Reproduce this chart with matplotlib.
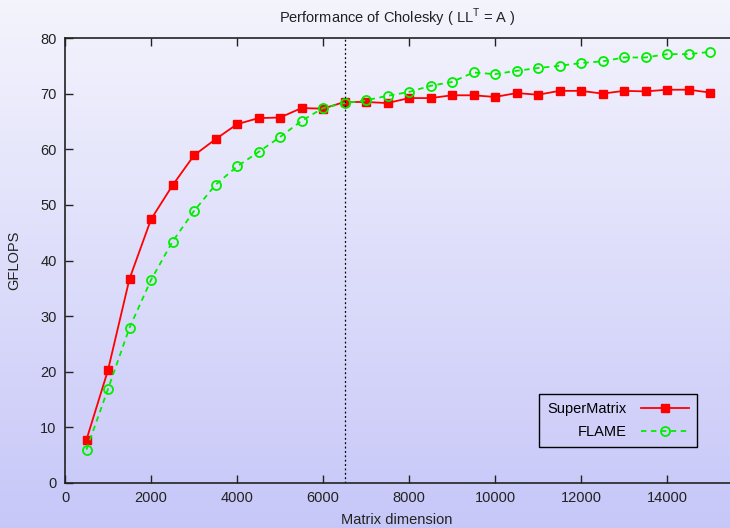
import numpy as np
import matplotlib
matplotlib.use("Agg")
import matplotlib.pyplot as plt

plt.rcParams['font.family'] = ['Liberation Sans', 'DejaVu Sans']

# %% Data
sizes = [500, 1000, 1500, 2000, 2500, 3000, 3500, 4000, 4500, 5000,
         5500, 6000, 6500, 7000, 7500, 8000, 8500, 9000, 9500, 10000,
         10500, 11000, 11500, 12000, 12500, 13000, 13500, 14000, 14500, 15000]
supermatrix = [7.8, 20.3, 36.7, 47.4, 53.5, 58.9, 61.8, 64.5, 65.6, 65.7,
               67.4, 67.3, 68.5, 68.5, 68.3, 69.2, 69.2, 69.7, 69.7, 69.4,
               70.1, 69.8, 70.5, 70.5, 70.0, 70.5, 70.4, 70.7, 70.7, 70.2]
flame = [6.0, 16.9, 27.9, 36.5, 43.4, 48.9, 53.6, 56.9, 59.5, 62.2,
         65.1, 67.4, 68.3, 68.8, 69.6, 70.3, 71.4, 72.1, 73.8, 73.5,
         74.1, 74.6, 75.0, 75.5, 75.8, 76.5, 76.5, 77.1, 77.1, 77.5]
split_at = 6500
xticks = list(range(0, 14001, 2000))
yticks = list(range(0, 81, 10))

# %% Figure with gradient background
W, H = 730, 528
fig = plt.figure(figsize=(W / 100, H / 100), dpi=100)

bg = fig.add_axes([0, 0, 1, 1], zorder=0)
grad = np.linspace(0, 1, 256).reshape(-1, 1)
top = np.array([0.957, 0.957, 0.992])
bot = np.array([0.780, 0.780, 0.976])
img = top + (bot - top) * grad[:, :, None]
bg.imshow(img, aspect='auto', extent=[0, 1, 0, 1])
bg.axis('off')

# axes: x=0 at px 65, y=0 at px 483, y=80 at px 38, 16000 past the right edge
left = 65 / W
right = (65 + 16000 * 0.043) / W
bottom = (H - 483) / H
height = (483 - 38) / H
ax = fig.add_axes([left, bottom, right - left, height], zorder=1)
ax.patch.set_alpha(0)

ax.plot(sizes, supermatrix, color='#ff0000', lw=1.3, marker='s', ms=6,
        mec='#ff0000', mfc='#ff0000', label='SuperMatrix')
ax.plot(sizes, flame, color='#00ee00', lw=1.3, ls=(0, (3, 2.5)), marker='o',
        ms=6.5, mec='#00ee00', mfc='none', mew=1.3, label='FLAME')
ax.axvline(split_at, color='black', lw=0.9, ls=(0, (1.5, 2)))

ax.set_xlim(0, 16000)
ax.set_ylim(0, 80)
ax.set_xticks(xticks)
ax.set_yticks(yticks)
ax.tick_params(direction='in', length=6, width=1, top=True, right=True,
               labelsize=10.5, colors='#222222', pad=6)
for s in ax.spines.values():
    s.set_linewidth(1.2)
    s.set_color('#222222')

leg = ax.legend(loc='upper left', bbox_to_anchor=((539 - 65) / (right - left) / W,
                                                  (483 - 394) / 445),
                markerfirst=False, fancybox=False, facecolor='none',
                edgecolor='black', fontsize=10.5, handlelength=3.3,
                borderpad=0.55, labelspacing=0.6, borderaxespad=0,
                handletextpad=1.0)
leg.get_frame().set_linewidth(1.0)
leg.get_frame().set_alpha(None)
for t in leg.get_texts():
    t.set_ha('right')
leg._legend_box.align = 'right'

fig.text(397 / W, 1 - 18 / H, 'Performance of Cholesky ( LL$^\\mathregular{T}$ = A )',
         ha='center', va='center', fontsize=10.5, color='#222222')
fig.text(397 / W, 1 - 520 / H, 'Matrix dimension', ha='center', va='center',
         fontsize=10.5, color='#222222')
fig.text(14 / W, 1 - 260 / H, 'GFLOPS', ha='center', va='center',
         rotation=90, fontsize=10.5, color='#222222')

fig.savefig('out.png', dpi=100)
